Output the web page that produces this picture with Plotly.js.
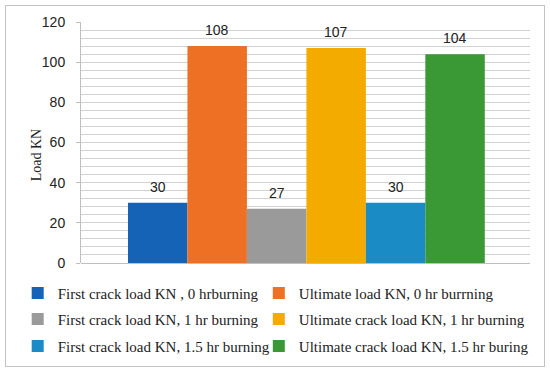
<!DOCTYPE html>
<html>
<head>
<meta charset="utf-8">
<script src="https://cdn.plot.ly/plotly-3.0.1.min.js"></script>
<style>
html,body{margin:0;padding:0;background:#fff;}
#wrap{position:relative;width:550px;height:372px;}
#chart{width:550px;height:372px;}
#frame{position:absolute;left:5px;top:5px;width:538px;height:360px;border:1px solid #c4c4c4;pointer-events:none;}
</style>
</head>
<body>
<div id="wrap"><div id="chart"></div><div id="frame"></div></div>
<script>
const seriesNames = [
  "First crack load KN , 0 hrburning",
  "Ultimate load KN, 0 hr burrning",
  "First crack load KN, 1 hr burning",
  "Ultimate crack load KN, 1 hr burning",
  "First crack load KN, 1.5 hr burning",
  "Ultimate crack load KN, 1.5 hr buring"
];
const seriesValues = [30, 108, 27, 107, 30, 104];
const seriesColors = ["#1563b6", "#ee7024", "#9a9a9a", "#f4ab00", "#1a8bc5", "#3a9935"];
const yTickVals = [0, 20, 40, 60, 80, 100, 120];
const yTitle = "Load KN";

const legendIds = ["legend", "legend2", "legend3", "legend4", "legend5", "legend6"];
const traces = seriesNames.map((name, i) => ({
  type: "bar",
  name: name,
  x: [i],
  y: [seriesValues[i]],
  width: 1,
  marker: {color: seriesColors[i], line: {width: 0}},
  legend: legendIds[i],
  hoverinfo: "none"
}));

const annotations = seriesValues.map((v, i) => ({
  x: i, y: v, xref: "x", yref: "y",
  text: String(v), showarrow: false,
  yanchor: "middle", yshift: 16,
  font: {family: "Liberation Sans, Arial, sans-serif", size: 14, color: "#222"}
}));
annotations.push({
  xref: "paper", yref: "paper", x: -0.1, y: 0.447,
  xanchor: "center", yanchor: "middle", textangle: -90,
  text: yTitle, showarrow: false,
  font: {family: "Liberation Serif, Times New Roman, serif", size: 14, color: "#222"}
});

const legFont = {family: "Liberation Serif, Times New Roman, serif", size: 15, color: "#222"};
function leg(x, y) {
  return {
    orientation: "h", x: x, y: y, xanchor: "left", yanchor: "middle",
    xref: "paper", yref: "paper",
    font: legFont,
    bgcolor: "rgba(0,0,0,0)", itemclick: false, itemdoubleclick: false
  };
}
const colX = [-0.141, 0.396];
const rowY = [-0.126, -0.233, -0.345];

const layout = {
  width: 550, height: 372,
  margin: {l: 81, r: 20, t: 21.5, b: 109.3, autoexpand: false},
  paper_bgcolor: "#fff", plot_bgcolor: "#fff",
  barmode: "overlay",
  showlegend: true,
  xaxis: {
    range: [-1.29, 6.26], showticklabels: false, ticks: "",
    showgrid: false, zeroline: false, showline: false, fixedrange: true
  },
  yaxis: {
    range: [0, 120], tickvals: yTickVals, ticks: "outside", ticklen: 4,
    tickcolor: "#bfbfbf", tickwidth: 1,
    showline: true, linecolor: "#bfbfbf", linewidth: 1,
    showgrid: true, gridcolor: "#d2d2d2", gridwidth: 1,
    minor: {dtick: 4, showgrid: true, gridcolor: "#d2d2d2", gridwidth: 1, ticks: ""},
    zeroline: true, zerolinecolor: "#bfbfbf", zerolinewidth: 1,
    tickfont: {family: "Liberation Sans, Arial, sans-serif", size: 14, color: "#222"},
    ticklabelstandoff: 8, fixedrange: true
  },
  annotations: annotations,
  font: {family: "Liberation Sans, Arial, sans-serif"}
};
legendIds.forEach((id, i) => {
  layout[id] = leg(colX[i % 2], rowY[Math.floor(i / 2)]);
});

Plotly.newPlot("chart", traces, layout, {displayModeBar: false, staticPlot: true});
</script>
</body>
</html>
